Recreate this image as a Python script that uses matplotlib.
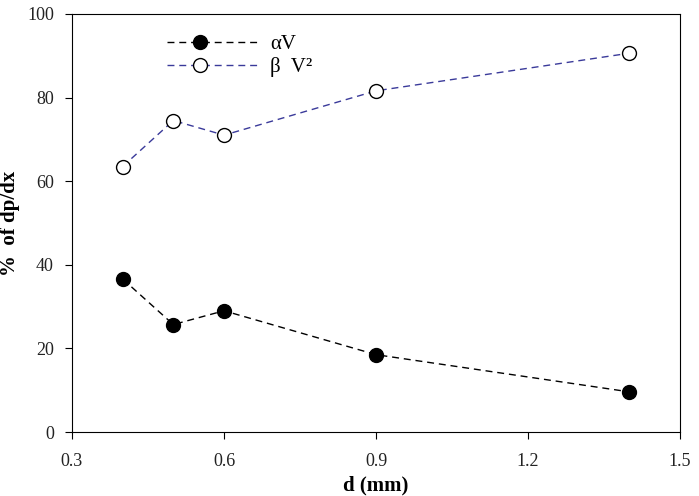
import matplotlib
matplotlib.use('Agg')
from matplotlib import pyplot as plt
from matplotlib.legend_handler import HandlerLine2D

plt.rcParams['font.family'] = ['Liberation Serif', 'DejaVu Serif']

d = [0.4, 0.5, 0.6, 0.9, 1.4]
alpha_v = [36.6, 25.7, 29.0, 18.5, 9.6]
beta_v2 = [63.5, 74.5, 71.0, 81.6, 90.6]


# marker sits left of centre in the legend sample, like the original
class OffsetMarker(HandlerLine2D):
    def create_artists(self, legend, orig_handle, xdescent, ydescent,
                       width, height, fontsize, trans):
        arts = super().create_artists(legend, orig_handle, xdescent, ydescent,
                                      width, height, fontsize, trans)
        line = arts[0]
        xs = list(line.get_xdata())
        if len(xs) == 3:
            xs[1] = xs[0] + 0.35 * (xs[2] - xs[0])
            line.set_xdata(xs)
        return arts


fig = plt.figure(figsize=(6.99, 4.96), dpi=100)
ax = fig.add_axes([0.103, 0.129, 0.870, 0.843])

ax.plot(d, alpha_v, color='black', lw=1.0, dashes=(5, 3.5),
        marker='o', ms=10, mfc='black', mec='black', label='αV')
ax.plot(d, beta_v2, color='#3a3a9a', lw=1.0, dashes=(5, 3.5),
        marker='o', ms=10, mfc='white', mec='black', label='β  V²')

ax.set_xlim(0.3, 1.5)
ax.set_ylim(0, 100)
ax.set_xticks([0.3, 0.6, 0.9, 1.2, 1.5])
ax.set_yticks([0, 20, 40, 60, 80, 100])
ax.tick_params(labelsize=13, direction='out', length=5, colors='black',
               labelcolor='#222222')
ax.tick_params(axis='x', pad=10)
ax.tick_params(axis='y', pad=8)

ax.set_xlabel('d (mm)', fontsize=15, fontweight='bold', labelpad=4)
ax.set_ylabel('%  of dp/dx', fontsize=15, fontweight='bold', labelpad=5)

ax.legend(loc='upper left', bbox_to_anchor=(0.125, 0.995), frameon=False,
          fontsize=15, handlelength=4.5, handletextpad=0.45, labelspacing=0.15,
          handler_map={plt.Line2D: OffsetMarker()})

plt.savefig('out.png', dpi=100)
